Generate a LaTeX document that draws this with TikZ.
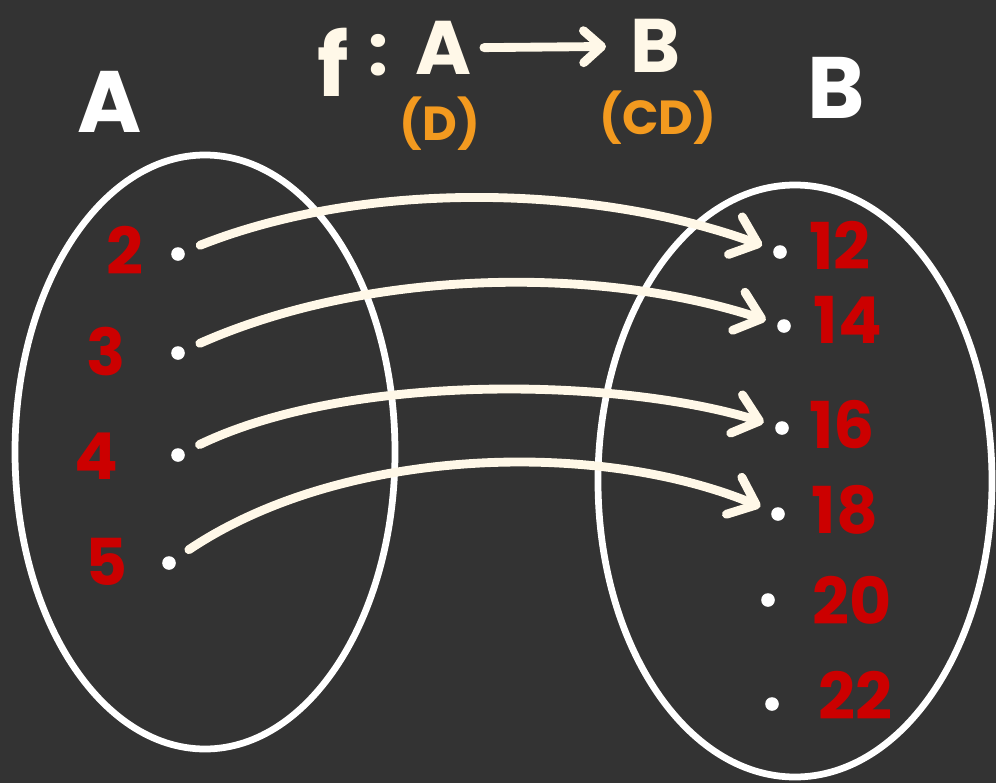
\documentclass[tikz,border=0pt]{standalone}
\usepackage{fontspec}
\setmainfont{Poppins}
\usetikzlibrary{arrows.meta}
\definecolor{board}{HTML}{333333}
\definecolor{cream}{HTML}{FFF8E8}
\definecolor{setred}{HTML}{CC0000}
\definecolor{domorange}{HTML}{F39A1F}

\begin{document}
\begin{tikzpicture}[x=0.025cm, y=-0.025cm,
    dot/.style={circle, fill=white, inner sep=0pt, minimum size=0.34cm},
    elem/.style={text=setred, font=\fontsize{46}{50}\selectfont\bfseries},
    setname/.style={text=white, font=\fontsize{62}{66}\selectfont\bfseries},
    map/.style={cream, line width=6.3pt, line cap=round, shorten <=0.42cm, shorten >=0.3cm,
        -{Straight Barb[round, length=0.6cm, width=1.0cm, line width=6.3pt]}}]
    \fill[board] (0,0) rectangle (996,783);
    \useasboundingbox (0,0) rectangle (996,783);

    % title
    \node[text=cream, font=\fontsize{62}{66}\selectfont\bfseries] (tf) at (333,62) {f};
    \node[text=cream, font=\fontsize{50}{54}\selectfont\bfseries] (tc) at (378,55) {:};
    \node[text=cream, font=\fontsize{54}{58}\selectfont\bfseries] (tA) at (443,48) {A};
    \node[text=cream, font=\fontsize{54}{58}\selectfont\bfseries] (tB) at (656,46) {B};
    \draw[cream, line width=6.3pt, line cap=round, shorten <=0.2cm, shorten >=0.5cm,
        -{Straight Barb[round, length=0.45cm, width=0.8cm, line width=6.3pt]}] (tA) -- (tB);
    \node[text=domorange, font=\fontsize{34}{38}\selectfont\bfseries] (dom) at (440,124) {(D)};
    \node[text=domorange, font=\fontsize{34}{38}\selectfont\bfseries] (codom) at (658,118) {(CD)};

    % the two sets
    \draw[white, line width=4.8pt] (205,452) ellipse (190 and 297);
    \draw[white, line width=4.8pt] (795,481) ellipse (197 and 296);
    \node[setname] (nameA) at (110,102) {A};
    \node[setname] (nameB) at (836,88) {B};

    % domain
    \node[elem] (n2) at (125,250) {2};
    \node[elem] (n3) at (106,352) {3};
    \node[elem] (n4) at (96,456) {4};
    \node[elem] (n5) at (107,562) {5};
    \node[dot] (a2) at (178,254) {};
    \node[dot] (a3) at (178,353) {};
    \node[dot] (a4) at (178,455) {};
    \node[dot] (a5) at (169,563) {};

    % codomain
    \node[dot] (b12) at (780,252) {};
    \node[dot] (b14) at (784,326) {};
    \node[dot] (b16) at (782,428) {};
    \node[dot] (b18) at (778,514) {};
    \node[dot] (b20) at (768,600) {};
    \node[dot] (b22) at (772,704) {};
    \node[elem] (n12) at (840,245) {12};
    \node[elem] (n14) at (848,320) {14};
    \node[elem] (n16) at (842,425) {16};
    \node[elem] (n18) at (845,510) {18};
    \node[elem] (n20) at (852,600) {20};
    \node[elem] (n22) at (855,695) {22};

    % the map f
    \draw[map] (a2) .. controls (370,178) and (600,186) .. (b12);
    \draw[map] (a3) .. controls (370,268) and (600,266) .. (b14);
    \draw[map] (a4) .. controls (350,372) and (620,378) .. (b16);
    \draw[map] (a5) .. controls (345,445) and (600,440) .. (b18);
\end{tikzpicture}
\end{document}
